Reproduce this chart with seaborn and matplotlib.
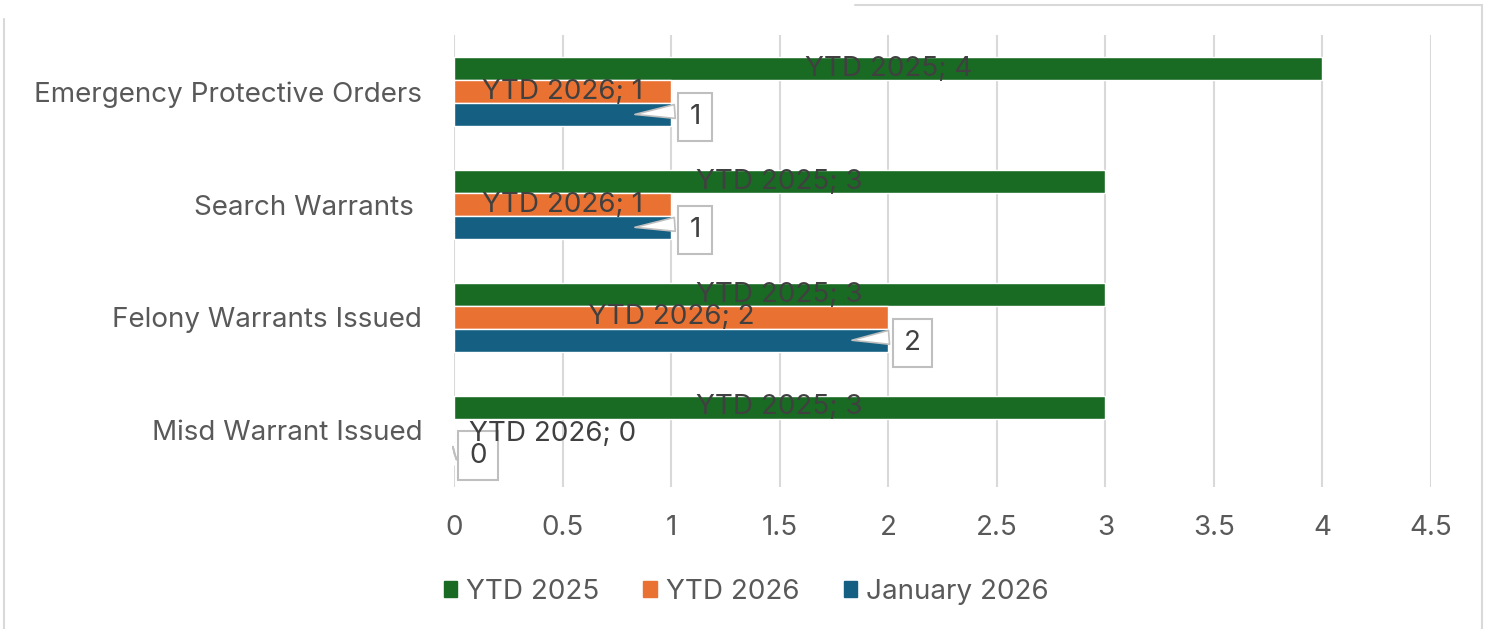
import pandas as pd
import matplotlib.pyplot as plt
import seaborn as sns
from matplotlib.lines import Line2D
from matplotlib.patches import Patch

# data
kategoriler = ["Emergency Protective Orders", "Search Warrants ", "Felony Warrants Issued", "Misd Warrant Issued"]
seriler = ["YTD 2025", "YTD 2026", "January 2026"]
ytd_2025 = [4, 3, 3, 3]
ytd_2026 = [1, 1, 2, 0]
ocak_2026 = [1, 1, 2, 0]
renkler = ["#196B24", "#E97132", "#156082"]
x_ticks = [0, 0.5, 1, 1.5, 2, 2.5, 3, 3.5, 4, 4.5]

df = pd.DataFrame({
    "kategori": kategoriler * 3,
    "seri": [s for s in seriler for _ in kategoriler],
    "deger": ytd_2025 + ytd_2026 + ocak_2026,
})

sns.set_style("white")
plt.rcParams["font.family"] = ["Inter", "DejaVu Sans"]
yazi_renk = "#595959"
etiket_renk = "#404040"
fs = 20

fig = plt.figure(figsize=(14.89, 6.29), dpi=100)
ax = fig.add_axes([0.305, 0.226, 0.656, 0.718])

sns.barplot(data=df, y="kategori", x="deger", hue="seri", order=kategoriler,
            hue_order=seriler, palette=renkler, width=0.61, orient="h",
            saturation=1, legend=False, ax=ax)

ax.set_xlim(0, 4.5)
ax.set_xticks(x_ticks)
ax.set_xticklabels([("%g" % t) for t in x_ticks])
ax.set_xlabel("")
ax.set_ylabel("")
for s in ax.spines.values():
    s.set_visible(False)
ax.grid(True, axis="x", color="#D9D9D9", linewidth=1.5)
ax.set_axisbelow(True)
ax.tick_params(axis="x", labelsize=fs, colors=yazi_renk, pad=20, length=0)
ax.tick_params(axis="y", labelsize=fs, colors=yazi_renk, pad=23, length=0)

# bar etiketleri
konteyner = ax.containers
for ci, seri in enumerate(seriler[:2]):
    for bar, val in zip(konteyner[ci], [ytd_2025, ytd_2026][ci]):
        yc = bar.get_y() + bar.get_height() / 2
        if val == 0:
            ax.text(0.07, yc + 0.03, f"{seri}; {val}", ha="left", va="center",
                    fontsize=fs, color=etiket_renk, zorder=6)
        else:
            ax.text(val / 2, yc, f"{seri}; {val}", ha="center", va="center",
                    fontsize=fs, color=etiket_renk, zorder=6)

# January 2026 callout etiketleri
for bar, val in zip(konteyner[2], ocak_2026):
    yc = bar.get_y() + bar.get_height() / 2
    ax.annotate(str(val), xy=(max(val - 0.18, 0.0), yc), xytext=(val + 0.11, yc + 0.02),
                ha="center", va="center", fontsize=fs, color=etiket_renk, zorder=5,
                bbox=dict(boxstyle="square,pad=0.4", fc="none", ec="#BFBFBF", lw=1.5),
                arrowprops=dict(arrowstyle="wedge,tail_width=0.5,shrink_factor=0.5",
                                fc="white", ec="#BFBFBF", lw=1.2, relpos=(0, 0.75)))

# legend
tutamaclar = [Patch(facecolor=r, edgecolor=r) for r in renkler]
fig.legend(tutamaclar, seriler, loc="center", bbox_to_anchor=(0.501, 0.059), ncol=3,
           frameon=False, fontsize=fs, labelcolor=yazi_renk, handlelength=0.5,
           handleheight=0.5, handletextpad=0.3, columnspacing=1.6)

# cerceve parcasi
fig.add_artist(Line2D([0.003, 0.003], [0.0, 0.97], color="#D9D9D9", lw=1.5))
fig.add_artist(Line2D([0.574, 0.995], [0.992, 0.992], color="#D9D9D9", lw=1.5))
fig.add_artist(Line2D([0.995, 0.995], [0.0, 0.992], color="#D9D9D9", lw=1.5))

plt.savefig("out.png", dpi=100)
